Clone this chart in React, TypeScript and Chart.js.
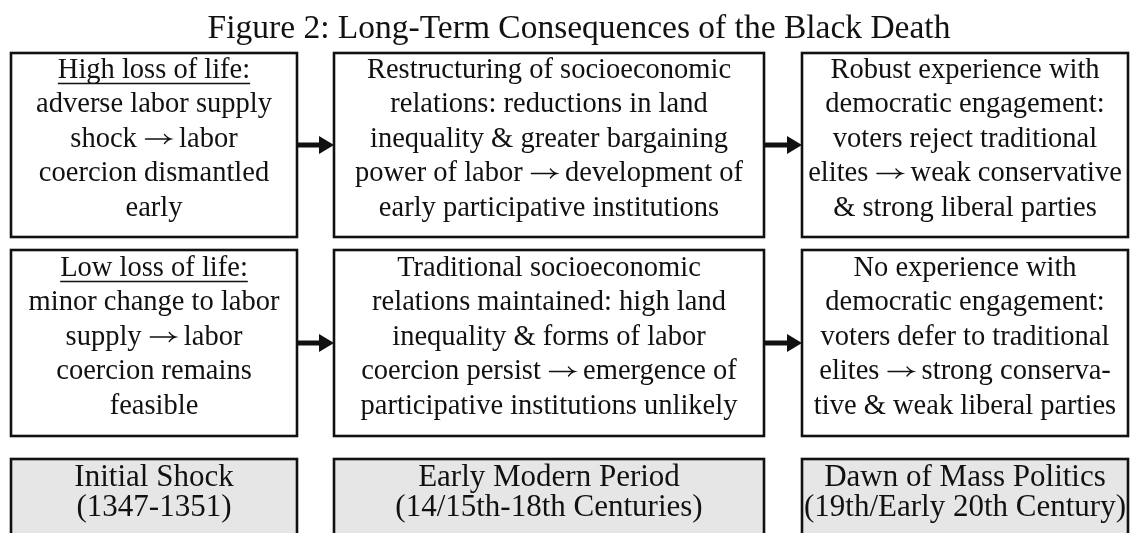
import React, { useEffect, useRef } from "react";
import { Chart, registerables } from "chart.js";

Chart.register(...registerables);

// ---- Content (data) ----
const figureTitle = "Figure 2: Long-Term Consequences of the Black Death";

const stageNames = ["Initial Shock", "Early Modern Period", "Dawn of Mass Politics"];
const stagePeriods = ["(1347-1351)", "(14/15th-18th Centuries)", "(19th/Early 20th Century)"];

const highLossHeader = "High loss of life:";
const highLossLines = [
  ["adverse labor supply", "shock \u2192 labor", "coercion dismantled", "early"],
  [
    "Restructuring of socioeconomic",
    "relations: reductions in land",
    "inequality & greater bargaining",
    "power of labor \u2192 development of",
    "early participative institutions",
  ],
  [
    "Robust experience with",
    "democratic engagement:",
    "voters reject traditional",
    "elites \u2192 weak conservative",
    "& strong liberal parties",
  ],
];

const lowLossHeader = "Low loss of life:";
const lowLossLines = [
  ["minor change to labor", "supply \u2192 labor", "coercion remains", "feasible"],
  [
    "Traditional socioeconomic",
    "relations maintained: high land",
    "inequality & forms of labor",
    "coercion persist \u2192 emergence of",
    "participative institutions unlikely",
  ],
  [
    "No experience with",
    "democratic engagement:",
    "voters defer to traditional",
    "elites \u2192 strong conserva-",
    "tive & weak liberal parties",
  ],
];

// ---- Layout (in scale units; axes are 0..1130 by 0..533) ----
const LAYOUT = {
  width: 1130,
  height: 533,
  cols: [
    [11, 297],
    [334, 764],
    [802, 1128],
  ],
  rows: [
    [53, 237],
    [250, 436],
    [459, 560],
  ],
  titleX: 579,
  titleY: 38,
  lineGap: 34.5,
  baselineShift: 1.5,
  stageBaselines: [27, 57],
};

const STYLE = {
  textFont: "28.5px 'Liberation Serif', serif",
  stageFont: "31px 'Liberation Serif', serif",
  titleFont: "33.5px 'Liberation Serif', serif",
  ink: "#111111",
  stageFill: "#e6e6e6",
  border: 2.6,
  arrowGlyphWidth: 28,
};

function drawTextLine(ctx: CanvasRenderingContext2D, text: string, cx: number, yb: number) {
  const ARROW = "\u2192";
  if (text.indexOf(ARROW) < 0) {
    ctx.textAlign = "center";
    ctx.fillText(text, cx, yb);
    return;
  }
  const [a, b] = text.split(ARROW);
  const wa = ctx.measureText(a).width;
  const wb = ctx.measureText(b).width;
  const aw = STYLE.arrowGlyphWidth;
  const total = wa + aw + wb;
  let x = cx - total / 2;
  ctx.textAlign = "left";
  ctx.fillText(a, x, yb);
  x += wa;
  const ay = yb - 7.5;
  ctx.save();
  ctx.lineWidth = 1.3;
  ctx.lineCap = "round";
  ctx.beginPath();
  ctx.moveTo(x + 1.5, ay);
  ctx.lineTo(x + aw - 1.5, ay);
  ctx.moveTo(x + aw - 7.5, ay - 4.5);
  ctx.quadraticCurveTo(x + aw - 4, ay - 0.5, x + aw - 1.5, ay);
  ctx.quadraticCurveTo(x + aw - 4, ay + 0.5, x + aw - 7.5, ay + 4.5);
  ctx.stroke();
  ctx.restore();
  x += aw;
  ctx.fillText(b, x, yb);
  ctx.textAlign = "center";
}

const diagramPlugin = {
  id: "flowDiagram",
  beforeDraw(chart: any) {
    const { ctx } = chart;
    ctx.save();
    ctx.fillStyle = "#ffffff";
    ctx.fillRect(0, 0, chart.width, chart.height);
    ctx.restore();
  },
  afterDraw(chart: any) {
    const { ctx } = chart;
    const xs = chart.scales.x;
    const ys = chart.scales.y;
    const px = (v: number) => xs.getPixelForValue(v);
    const py = (v: number) => ys.getPixelForValue(v);

    ctx.save();
    ctx.fillStyle = STYLE.ink;
    ctx.strokeStyle = STYLE.ink;
    ctx.textAlign = "center";
    ctx.textBaseline = "alphabetic";

    // title
    ctx.font = STYLE.titleFont;
    ctx.fillText(figureTitle, px(LAYOUT.titleX), py(LAYOUT.titleY));

    const rowsContent = [
      { header: highLossHeader, lines: highLossLines },
      { header: lowLossHeader, lines: lowLossLines },
    ];

    rowsContent.forEach((row, r) => {
      const [top, bottom] = LAYOUT.rows[r];
      const cy = (top + bottom) / 2;
      LAYOUT.cols.forEach(([left, right], c) => {
        // box
        ctx.lineWidth = STYLE.border;
        ctx.strokeRect(px(left), py(top), px(right) - px(left), py(bottom) - py(top));
        // text
        const lines = c === 0 ? [row.header, ...row.lines[c]] : row.lines[c];
        const n = lines.length;
        const cx = (left + right) / 2;
        ctx.font = STYLE.textFont;
        lines.forEach((t, i) => {
          const yb = cy + LAYOUT.baselineShift + (i - (n - 1) / 2) * LAYOUT.lineGap;
          drawTextLine(ctx, t, px(cx), py(yb));
          if (c === 0 && i === 0) {
            const w = ctx.measureText(t).width;
            ctx.lineWidth = 1.4;
            ctx.beginPath();
            ctx.moveTo(px(cx) - w / 2, py(yb) + 6);
            ctx.lineTo(px(cx) + w / 2, py(yb) + 6);
            ctx.stroke();
          }
        });
        // arrow to next column
        if (c < LAYOUT.cols.length - 1) {
          const x0 = px(right);
          const x1 = px(LAYOUT.cols[c + 1][0]);
          const ay = py(cy);
          const headLen = 15;
          ctx.lineWidth = 5;
          ctx.beginPath();
          ctx.moveTo(x0, ay);
          ctx.lineTo(x1 - headLen + 1, ay);
          ctx.stroke();
          ctx.beginPath();
          ctx.moveTo(x1, ay);
          ctx.lineTo(x1 - headLen, ay - 9);
          ctx.lineTo(x1 - headLen, ay + 9);
          ctx.closePath();
          ctx.fill();
        }
      });
    });

    // stage boxes
    const [sTop, sBottom] = LAYOUT.rows[2];
    LAYOUT.cols.forEach(([left, right], c) => {
      ctx.fillStyle = STYLE.stageFill;
      ctx.fillRect(px(left), py(sTop), px(right) - px(left), py(sBottom) - py(sTop));
      ctx.lineWidth = STYLE.border;
      ctx.strokeRect(px(left), py(sTop), px(right) - px(left), py(sBottom) - py(sTop));
      ctx.fillStyle = STYLE.ink;
      ctx.font = STYLE.stageFont;
      ctx.textAlign = "center";
      const cx = (left + right) / 2;
      ctx.fillText(stageNames[c], px(cx), py(sTop + LAYOUT.stageBaselines[0]));
      ctx.fillText(stagePeriods[c], px(cx), py(sTop + LAYOUT.stageBaselines[1]));
    });

    ctx.restore();
  },
};

export default function App() {
  const canvasRef = useRef<HTMLCanvasElement | null>(null);

  useEffect(() => {
    document.body.style.margin = "0";
    const canvas = canvasRef.current;
    if (!canvas) return;
    const chart = new Chart(canvas, {
      type: "scatter",
      data: { datasets: [] },
      options: {
        responsive: false,
        animation: false,
        devicePixelRatio: 1,
        layout: { padding: 0 },
        plugins: {
          legend: { display: false },
          tooltip: { enabled: false },
          title: { display: false },
        },
        scales: {
          x: { type: "linear", min: 0, max: LAYOUT.width, display: false },
          y: { type: "linear", min: 0, max: LAYOUT.height, reverse: true, display: false },
        },
      },
      plugins: [diagramPlugin],
    });
    return () => chart.destroy();
  }, []);

  return (
    <canvas
      ref={canvasRef}
      width={LAYOUT.width}
      height={LAYOUT.height}
      style={{ display: "block", width: LAYOUT.width, height: LAYOUT.height }}
    />
  );
}
